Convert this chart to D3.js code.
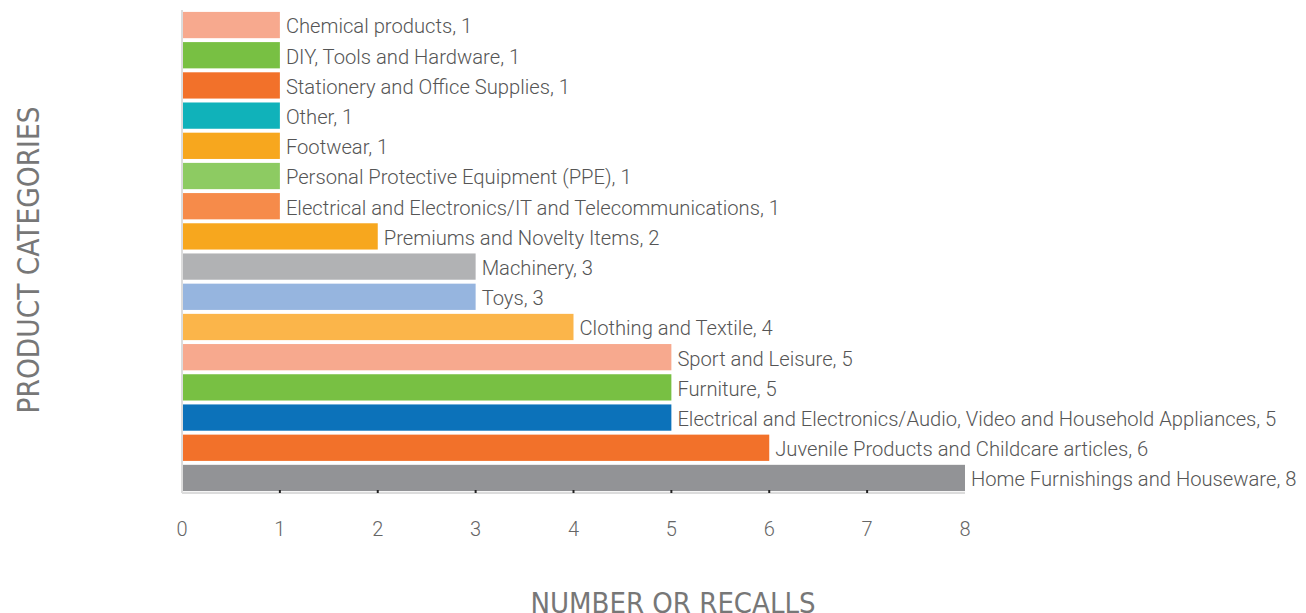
<!DOCTYPE html>
<html>
<head>
<meta charset="utf-8">
<script src="https://cdn.jsdelivr.net/npm/d3@7"></script>
<style>
body{margin:0;background:#fff;}
svg text{font-family:Roboto,"Liberation Sans",sans-serif;}
</style>
</head>
<body>
<div id="chart"></div>
<script>
// data, top to bottom as drawn
const categories=[
    "Chemical products","DIY, Tools and Hardware","Stationery and Office Supplies","Other",
    "Footwear","Personal Protective Equipment (PPE)","Electrical and Electronics/IT and Telecommunications",
    "Premiums and Novelty Items","Machinery","Toys","Clothing and Textile","Sport and Leisure","Furniture",
    "Electrical and Electronics/Audio, Video and Household Appliances",
    "Juvenile Products and Childcare articles","Home Furnishings and Houseware"
];
const recalls=[1,1,1,1,1,1,1,2,3,3,4,5,5,5,6,8];
const barColors=["#f7a98e","#78c043","#f2712a","#10b2ba","#f7a71e","#8dcb62","#f68b4a","#f7a71e",
    "#b1b2b4","#96b5df","#fbb54a","#f7a98e","#78c043","#0c72ba","#f2712a","#929396"];
const xTicks=[0,1,2,3,4,5,6,7,8];

(function(){
    let W=1306,H=613;
    let left=182,right=965,top=11,bottom=492;
    let svg=d3.select("#chart").append("svg").attr("width",W).attr("height",H);

    let x=d3.scaleLinear().domain([0,8]).range([left,right]);
    let y=d3.scaleBand().domain(categories).range([top,bottom]).paddingInner(0.13).paddingOuter(0.03);

    //axis lines (light grey)
    svg.append("line").attr("x1",left).attr("x2",left).attr("y1",top-1).attr("y2",bottom+1)
        .attr("stroke","#dcdcdc").attr("stroke-width",2);
    svg.append("line").attr("x1",left).attr("x2",right).attr("y1",bottom+1).attr("y2",bottom+1)
        .attr("stroke","#dcdcdc").attr("stroke-width",2);

    let data=categories.map(function(c,i){return {name:c,value:recalls[i],color:barColors[i]}});

    svg.append("g").selectAll("rect").data(data).enter().append("rect")
        .attr("x",x(0)+1)
        .attr("y",function(d){return y(d.name)})
        .attr("width",function(d){return x(d.value)-x(0)-1})
        .attr("height",y.bandwidth())
        .attr("fill",function(d){return d.color});

    //small dark tick marks
    svg.append("g").selectAll("line").data(xTicks.slice(1,-1)).enter().append("line")
        .attr("x1",function(d){return x(d)}).attr("x2",function(d){return x(d)})
        .attr("y1",bottom-2).attr("y2",bottom+1)
        .attr("stroke","#222").attr("stroke-width",2);

    svg.append("g").selectAll("text").data(data).enter().append("text")
        .attr("x",function(d){return x(d.value)+6})
        .attr("y",function(d){return y(d.name)+y.bandwidth()/2+3})
        .attr("dominant-baseline","middle")
        .attr("font-size",20.2).attr("font-weight",300).attr("fill","#555")
        .text(function(d){return d.name+", "+d.value});

    svg.append("g").selectAll("text").data(xTicks).enter().append("text")
        .attr("x",function(d){return x(d)})
        .attr("y",531)
        .attr("text-anchor","middle").attr("dominant-baseline","middle")
        .attr("font-size",20).attr("font-weight",300).attr("fill","#666")
        .text(function(d){return d});

    svg.append("text")
        .attr("transform","translate(39,260) rotate(-90)")
        .attr("text-anchor","middle")
        .attr("font-size",29.5).attr("fill","#777")
        .attr("style","font-family:'DejaVu Sans Condensed',Roboto,sans-serif;font-stretch:condensed")
        .text("PRODUCT CATEGORIES");

    // cut off at the bottom edge, as in the original
    svg.append("text")
        .attr("x",673).attr("y",613)
        .attr("text-anchor","middle")
        .attr("font-size",29).attr("fill","#777")
        .attr("style","font-family:'DejaVu Sans Condensed',Roboto,sans-serif;font-stretch:condensed")
        .text("NUMBER OR RECALLS");
})();
</script>
</body>
</html>
